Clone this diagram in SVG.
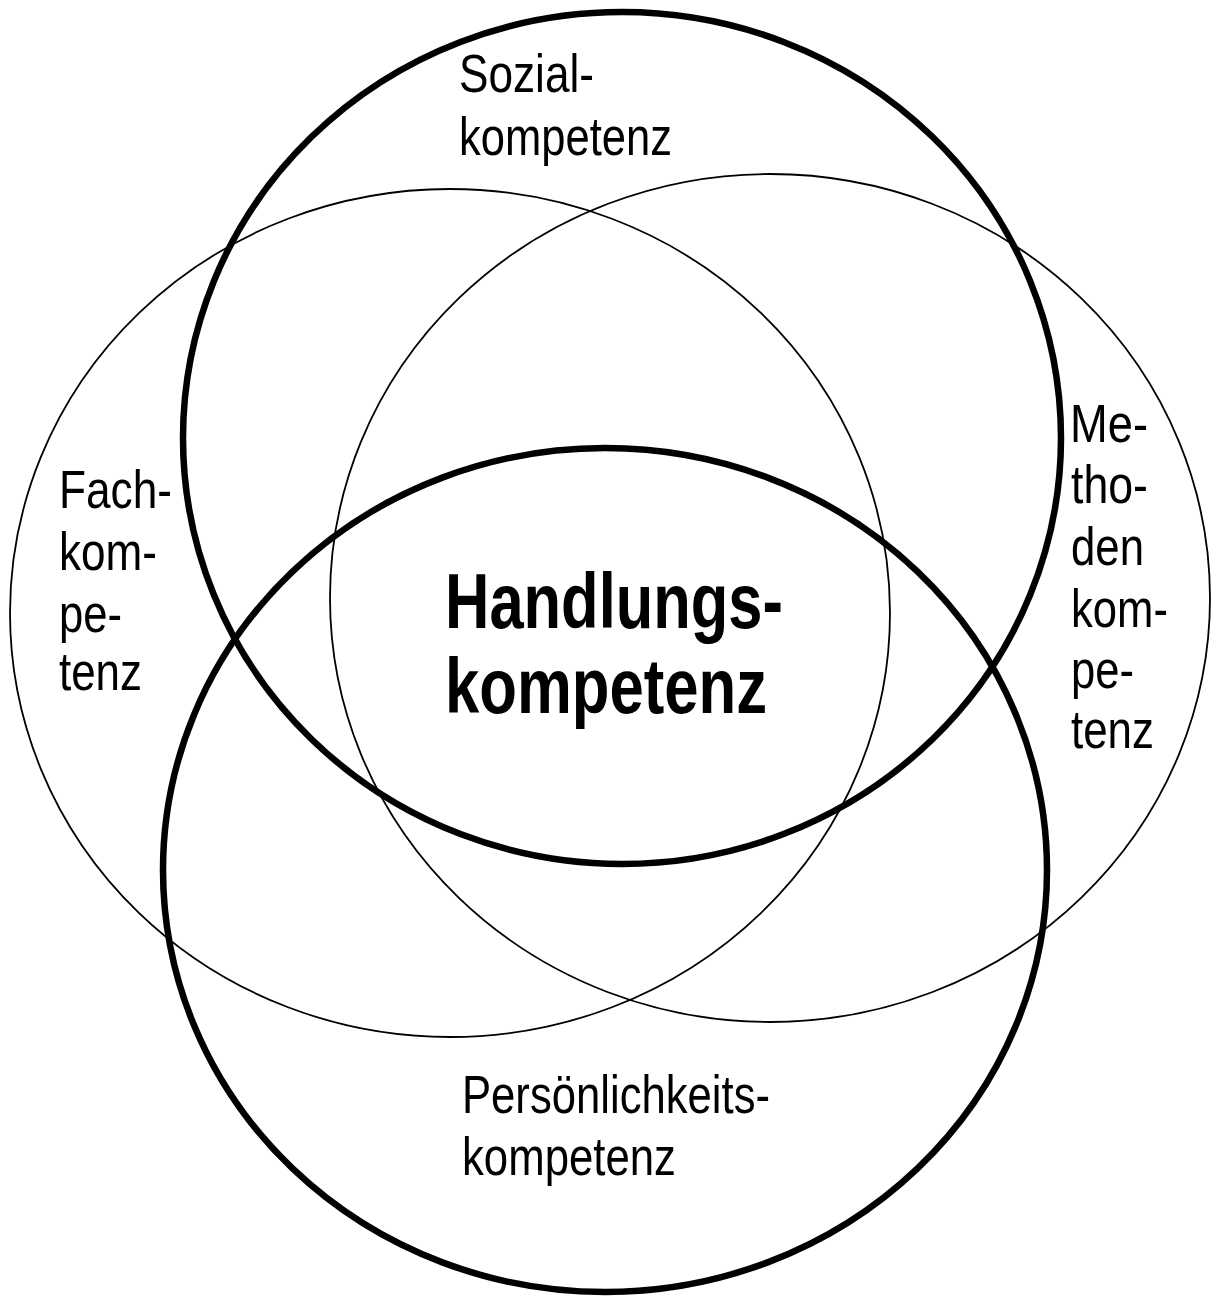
<svg xmlns="http://www.w3.org/2000/svg" width="1213" height="1298" viewBox="0 0 1213 1298">
<style>
.thick{fill:none;stroke:#000;stroke-width:6.5}
.thin{fill:none;stroke:#000;stroke-width:1.8}
.lbl{font-family:"Liberation Sans",Arial,sans-serif;font-size:53px;fill:#000}
.main{font-family:"Liberation Sans",Arial,sans-serif;font-size:77px;font-weight:bold;fill:#000}
</style>
<rect width="1213" height="1298" fill="#fff"/>
<g id="connectors"></g>
<g id="fach">
<ellipse class="thin" cx="450" cy="613" rx="440" ry="424"/>
<text class="lbl" x="59" y="508" textLength="113" lengthAdjust="spacingAndGlyphs">Fach-</text>
<text class="lbl" x="59" y="570" textLength="98" lengthAdjust="spacingAndGlyphs">kom-</text>
<text class="lbl" x="59" y="632" textLength="63" lengthAdjust="spacingAndGlyphs">pe-</text>
<text class="lbl" x="59" y="690" textLength="83" lengthAdjust="spacingAndGlyphs">tenz</text>
</g>
<g id="methoden">
<ellipse class="thin" cx="770" cy="598" rx="440" ry="424"/>
<text class="lbl" x="1070" y="442" textLength="78" lengthAdjust="spacingAndGlyphs">Me-</text>
<text class="lbl" x="1071" y="503" textLength="77" lengthAdjust="spacingAndGlyphs">tho-</text>
<text class="lbl" x="1071" y="565" textLength="73" lengthAdjust="spacingAndGlyphs">den</text>
<text class="lbl" x="1071" y="627" textLength="97" lengthAdjust="spacingAndGlyphs">kom-</text>
<text class="lbl" x="1071" y="688" textLength="63" lengthAdjust="spacingAndGlyphs">pe-</text>
<text class="lbl" x="1071" y="748" textLength="83" lengthAdjust="spacingAndGlyphs">tenz</text>
</g>
<g id="sozial">
<ellipse class="thick" cx="622" cy="438" rx="439" ry="426"/>
<text class="lbl" x="459" y="92" textLength="135" lengthAdjust="spacingAndGlyphs">Sozial-</text>
<text class="lbl" x="459" y="155" textLength="213" lengthAdjust="spacingAndGlyphs">kompetenz</text>
</g>
<g id="persoenlichkeit">
<ellipse class="thick" cx="605" cy="870" rx="442" ry="422"/>
<text class="lbl" x="462" y="1113" textLength="308" lengthAdjust="spacingAndGlyphs">Persönlichkeits-</text>
<text class="lbl" x="462" y="1175" textLength="214" lengthAdjust="spacingAndGlyphs">kompetenz</text>
</g>
<g id="handlung">
<text class="main" x="445" y="628" textLength="338" lengthAdjust="spacingAndGlyphs">Handlungs-</text>
<text class="main" x="445" y="713" textLength="322" lengthAdjust="spacingAndGlyphs">kompetenz</text>
</g>
</svg>
